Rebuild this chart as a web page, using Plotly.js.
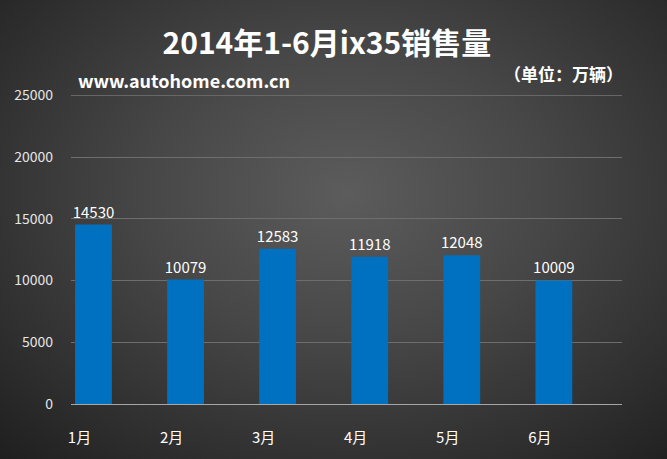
<!DOCTYPE html>
<html><head><meta charset="utf-8">
<script src="https://cdn.plot.ly/plotly-3.0.1.min.js"></script>
<style>
html,body{margin:0;padding:0;width:667px;height:459px;overflow:hidden;}
#bg{width:667px;height:459px;background:radial-gradient(ellipse 75% 80% at 52% 42%, #5c5c5c 0%, #474747 40%, #303030 75%, #1f1f1f 100%);}
</style></head>
<body><div id="bg"><div id="chart" style="width:667px;height:459px;"></div></div>
<script>
const months = ["1月","2月","3月","4月","5月","6月"];
const sales = [14530, 10079, 12583, 11918, 12048, 10009];
const yTicks = [0, 5000, 10000, 15000, 20000, 25000];
const titleText = "2014年1-6月ix35销售量";
const sourceText = "www.autohome.com.cn";
const unitText = "（单位：万辆）";

const cjk = '"Noto Sans CJK SC", "Microsoft YaHei", sans-serif';
const trace = {
  type: 'bar', x: months, y: sales,
  marker: {color: '#0070C0'},
  width: 0.40,
  text: sales.map(String), textposition: 'outside', constraintext: 'none',
  textfont: {family: cjk, size: 15, color: '#ffffff'},
  cliponaxis: false, hoverinfo: 'skip'
};
const yMax = yTicks[yTicks.length - 1];
const layout = {
  width: 667, height: 459,
  paper_bgcolor: 'rgba(0,0,0,0)', plot_bgcolor: 'rgba(0,0,0,0)',
  margin: {l: 71, r: 45, t: 95, b: 55},
  showlegend: false,
  bargap: 0.6,
  title: {text: '<b>' + titleText + '</b>', x: 0.49, xanchor: 'center', y: 0.905, yanchor: 'middle',
          font: {family: cjk, size: 30, color: '#ffffff'}},
  xaxis: {type: 'category', range: [-0.244, 5.74], showgrid: false, zeroline: false,
          showline: true, linecolor: '#a6a6a6', linewidth: 1, ticks: '',
          tickfont: {family: cjk, size: 15, color: '#ffffff'},
          ticklabelshift: -14, ticklabelstandoff: 20, fixedrange: true},
  yaxis: {range: [0, 25030], tickvals: yTicks, ticktext: yTicks.map(String),
          showgrid: true, gridcolor: '#6e6e6e', gridwidth: 1, zeroline: false,
          showline: false, ticks: '', ticklabelstandoff: 17,
          tickfont: {family: cjk, size: 14, color: '#e6e6e6'}, fixedrange: true},
  shapes: [
    {type: 'line', xref: 'paper', yref: 'y', x0: 0, x1: 1, y0: yMax, y1: yMax,
     line: {color: '#6e6e6e', width: 1}, layer: 'below'}
  ],
  annotations: [
    {text: '<b>' + sourceText + '</b>', xref: 'paper', yref: 'paper', x: 0.009, y: 1.05, xanchor: 'left', yanchor: 'middle',
     showarrow: false, font: {family: cjk, size: 18, color: '#ffffff'}},
    {text: '<b>' + unitText + '</b>', xref: 'paper', yref: 'paper', x: 1.005, y: 1.068, xanchor: 'right', yanchor: 'middle',
     showarrow: false, font: {family: cjk, size: 17, color: '#ffffff'}}
  ]
};
Plotly.newPlot('chart', [trace], layout, {displayModeBar: false, staticPlot: true});
</script></body></html>
